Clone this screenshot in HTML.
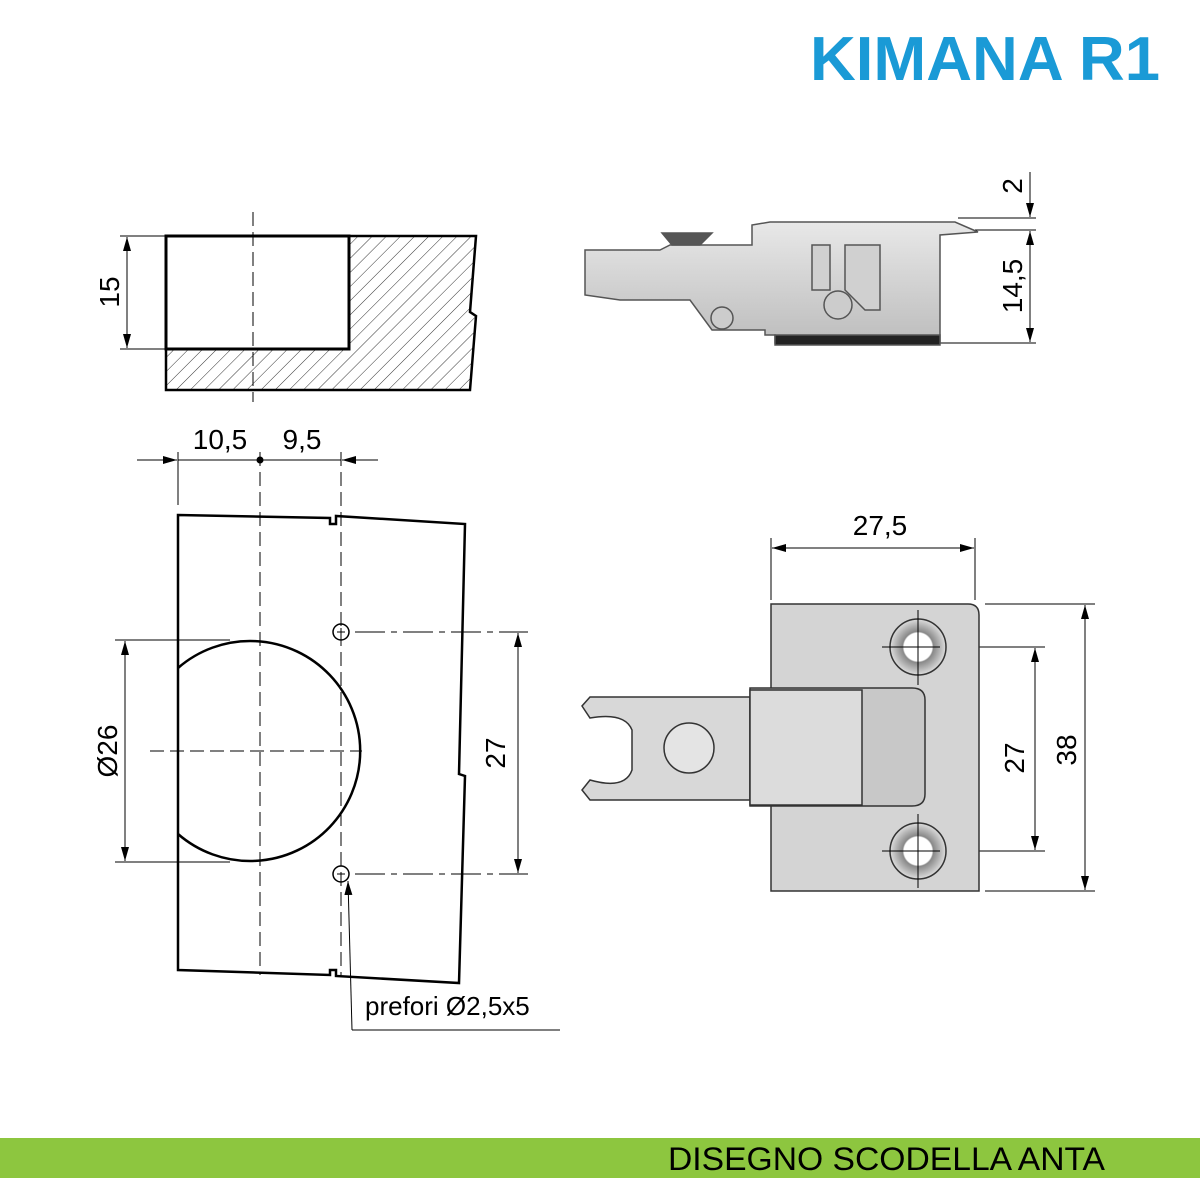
<!DOCTYPE html>
<html><head><meta charset="utf-8"><style>
html,body{margin:0;padding:0;background:#fff;}
svg{display:block;}
text{font-family:"Liberation Sans",sans-serif;}
</style></head><body>
<svg width="1200" height="1200" viewBox="0 0 1200 1200">
<defs>
<marker id="a" markerWidth="14" markerHeight="8" refX="14" refY="4" orient="auto" markerUnits="userSpaceOnUse"><path d="M0,0 L14,4 L0,8 Z" fill="#000"/></marker>
<pattern id="h" width="10" height="10" patternUnits="userSpaceOnUse" patternTransform="rotate(45)"><line x1="0" y1="0" x2="0" y2="10" stroke="#000" stroke-width="0.8"/></pattern>
<linearGradient id="g" x1="0" y1="0" x2="0" y2="1"><stop offset="0" stop-color="#e8e8e8"/><stop offset="1" stop-color="#bdbdbd"/></linearGradient>
<radialGradient id="hole"><stop offset="0.5" stop-color="#fff"/><stop offset="0.55" stop-color="#888"/><stop offset="1" stop-color="#ddd"/></radialGradient>
</defs>
<text x="810" y="80" textLength="350" lengthAdjust="spacingAndGlyphs" font-size="62" font-weight="bold" fill="#1a9ad6">KIMANA R1</text>
<rect x="0" y="1138" width="1200" height="40" fill="#8dc63f"/>
<text x="668" y="1170" textLength="437" lengthAdjust="spacingAndGlyphs" font-size="32" fill="#000">DISEGNO SCODELLA ANTA</text>

<g stroke="#000" fill="none">
<path d="M349,236 L476,236 L470,312 L476,316 L470,390 L166,390 L166,349 L349,349 Z" fill="url(#h)" stroke-width="2.5"/>
<rect x="166" y="236" width="183" height="113" stroke-width="3"/>
<line x1="253" y1="212" x2="253" y2="402" stroke-dasharray="14,6" stroke-width="1"/>
<line x1="120" y1="236" x2="166" y2="236" stroke-width="1"/>
<line x1="120" y1="349" x2="166" y2="349" stroke-width="1"/>
<line x1="127" y1="292" x2="127" y2="237" stroke-width="1" marker-end="url(#a)"/>
<line x1="127" y1="292" x2="127" y2="348" stroke-width="1" marker-end="url(#a)"/>

<line x1="137" y1="460" x2="177" y2="460" stroke-width="1" marker-end="url(#a)"/>
<line x1="378" y1="460" x2="342" y2="460" stroke-width="1" marker-end="url(#a)"/>
<line x1="178" y1="460" x2="341" y2="460" stroke-width="1"/>
<line x1="178" y1="452" x2="178" y2="505" stroke-width="1"/>

<path d="M178,515 L330,518 L330,524 L336,524 L336,516 L465,524 L459,774 L465,776 L459,983 L336,976 L336,970 L330,970 L330,975 L178,970 Z" stroke-width="2.5"/>
<path d="M178,668 A110,110 0 1 1 178,834" stroke-width="2.5"/>
<line x1="260" y1="452" x2="260" y2="975" stroke-dasharray="14,6" stroke-width="1"/>
<line x1="341" y1="452" x2="341" y2="975" stroke-dasharray="14,6" stroke-width="1"/>
<line x1="150" y1="751" x2="362" y2="751" stroke-dasharray="14,6" stroke-width="1"/>
<circle cx="341" cy="632" r="8" stroke-width="1.5"/>
<circle cx="341" cy="874" r="8" stroke-width="1.5"/>
<line x1="355" y1="632" x2="528" y2="632" stroke-dasharray="30,6,6,6" stroke-width="1"/>
<line x1="355" y1="874" x2="528" y2="874" stroke-dasharray="30,6,6,6" stroke-width="1"/>
<line x1="115" y1="640" x2="230" y2="640" stroke-width="1"/>
<line x1="115" y1="862" x2="230" y2="862" stroke-width="1"/>
<line x1="125" y1="751" x2="125" y2="641" stroke-width="1" marker-end="url(#a)"/>
<line x1="125" y1="751" x2="125" y2="861" stroke-width="1" marker-end="url(#a)"/>
<line x1="518" y1="751" x2="518" y2="633" stroke-width="1" marker-end="url(#a)"/>
<line x1="518" y1="751" x2="518" y2="873" stroke-width="1" marker-end="url(#a)"/>
<polyline points="352,1030 560,1030" stroke-width="1"/>
<line x1="352" y1="1030" x2="348" y2="881" stroke-width="1" marker-end="url(#a)"/>

<line x1="958" y1="218" x2="1036" y2="218" stroke-width="1"/>
<line x1="975" y1="230" x2="1036" y2="230" stroke-width="1"/>
<line x1="940" y1="343" x2="1036" y2="343" stroke-width="1"/>
<line x1="1030" y1="172" x2="1030" y2="217" stroke-width="1" marker-end="url(#a)"/>
<line x1="1030" y1="286" x2="1030" y2="231" stroke-width="1" marker-end="url(#a)"/>
<line x1="1030" y1="286" x2="1030" y2="342" stroke-width="1" marker-end="url(#a)"/>

<line x1="771" y1="538" x2="771" y2="600" stroke-width="1"/>
<line x1="975" y1="538" x2="975" y2="600" stroke-width="1"/>
<line x1="873" y1="548" x2="772" y2="548" stroke-width="1" marker-end="url(#a)"/>
<line x1="873" y1="548" x2="974" y2="548" stroke-width="1" marker-end="url(#a)"/>
<line x1="985" y1="604" x2="1095" y2="604" stroke-width="1"/>
<line x1="985" y1="891" x2="1095" y2="891" stroke-width="1"/>
<line x1="940" y1="647" x2="1045" y2="647" stroke-width="1"/>
<line x1="940" y1="851" x2="1045" y2="851" stroke-width="1"/>
<line x1="1035" y1="749" x2="1035" y2="648" stroke-width="1" marker-end="url(#a)"/>
<line x1="1035" y1="749" x2="1035" y2="850" stroke-width="1" marker-end="url(#a)"/>
<line x1="1085" y1="748" x2="1085" y2="605" stroke-width="1" marker-end="url(#a)"/>
<line x1="1085" y1="748" x2="1085" y2="890" stroke-width="1" marker-end="url(#a)"/>
<path d="M337,632 H345 M341,628 V636 M337,874 H345" stroke-width="1"/>
</g>
<circle cx="260" cy="460" r="3.5" fill="#000"/>

<g stroke="#555" stroke-width="1.5">
<path d="M585,250 L660,250 L670,245 L752,245 L752,225 L770,222 L955,222 L978,232 L940,235 L940,343 L775,343 L775,335 L765,335 L765,330 L712,330 L690,300 L620,300 L585,295 Z" fill="url(#g)"/>
<path d="M662,233 L712,233 L700,245 L672,245 Z" fill="#555"/>
<rect x="775" y="335" width="165" height="10" fill="#222"/>
<path d="M812,245 L830,245 L830,290 L812,290 Z M845,245 L880,245 L880,310 L865,310 L845,290 Z" fill="#d0d0d0"/>
<circle cx="838" cy="305" r="14" fill="#ccc"/>
<circle cx="722" cy="318" r="11" fill="#ccc"/>
</g>

<g stroke="#333" stroke-width="1.5">
<path d="M771,604 L968,604 Q979,604 979,615 L979,891 L771,891 Z" fill="#d4d4d4"/>
<circle cx="918" cy="647" r="28" fill="url(#hole)"/>
<circle cx="918" cy="851" r="28" fill="url(#hole)"/>
<path d="M590,697 L750,697 L750,800 L590,800 L582,790 L590,780 Q625,790 632,770 L632,730 Q625,712 590,718 L582,706 Z" fill="#d8d8d8"/>
<circle cx="689" cy="748" r="25" fill="#e4e4e4"/>
<path d="M750,688 L912,688 Q925,688 925,700 L925,794 Q925,806 912,806 L750,806 Z" fill="#c8c8c8"/>
<rect x="750" y="690" width="112" height="115" fill="#dcdcdc"/>
</g>
<g stroke="#000" stroke-width="1">
<line x1="918" y1="610" x2="918" y2="685"/><line x1="882" y1="647" x2="940" y2="647"/>
<line x1="918" y1="814" x2="918" y2="888"/><line x1="882" y1="851" x2="940" y2="851"/>
</g>

<g font-size="28" fill="#000">
<text x="0" y="0" transform="translate(119,292) rotate(-90)" text-anchor="middle">15</text>
<text x="220" y="449" text-anchor="middle">10,5</text>
<text x="302" y="449" text-anchor="middle">9,5</text>
<text x="0" y="0" transform="translate(117,751) rotate(-90)" text-anchor="middle">Ø26</text>
<text x="0" y="0" transform="translate(505,753) rotate(-90)" text-anchor="middle">27</text>
<text x="365" y="1015" font-size="26">prefori Ø2,5x5</text>
<text x="0" y="0" transform="translate(1022,186) rotate(-90)" text-anchor="middle">2</text>
<text x="0" y="0" transform="translate(1022,286) rotate(-90)" text-anchor="middle">14,5</text>
<text x="880" y="535" text-anchor="middle">27,5</text>
<text x="0" y="0" transform="translate(1024,758) rotate(-90)" text-anchor="middle">27</text>
<text x="0" y="0" transform="translate(1076,750) rotate(-90)" text-anchor="middle">38</text>
</g>
</svg>
</body></html>
